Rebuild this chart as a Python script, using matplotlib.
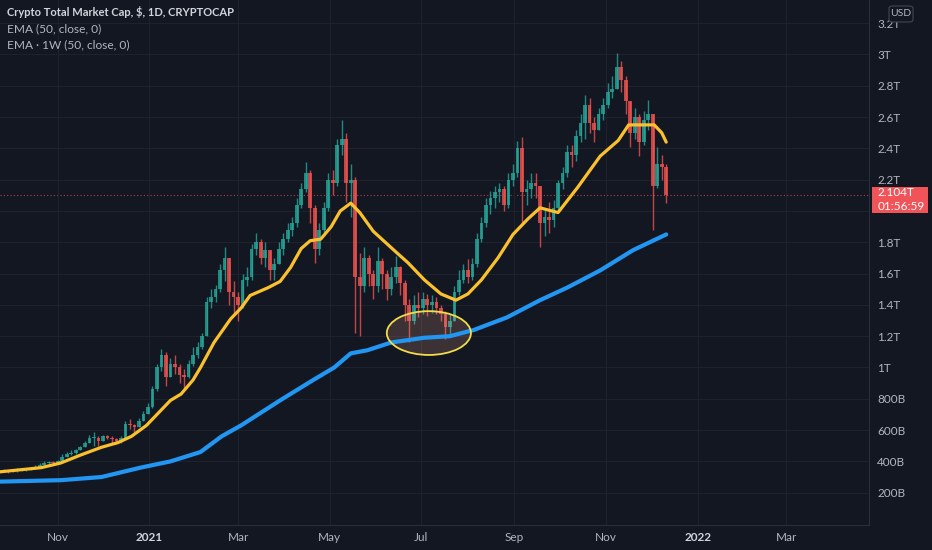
import numpy as np
import pandas as pd
import matplotlib
matplotlib.use("Agg")
import matplotlib.pyplot as plt
import matplotlib.dates as mdates
from matplotlib.patches import Ellipse, Rectangle, FancyBboxPatch

# 3-day candles, Sep 23 2020 -> Dec 11 2021 (values in trillions USD)
candle_dates = pd.date_range("2020-09-23", "2021-12-11", freq="3D")
first_open = 0.33
closes = [
    0.335, 0.34, 0.335, 0.34, 0.345, 0.35, 0.35, 0.355, 0.365, 0.38,
    0.39, 0.395, 0.39, 0.40, 0.43, 0.45, 0.455, 0.47, 0.49, 0.52,
    0.55, 0.55, 0.53, 0.56, 0.55, 0.54, 0.53, 0.55, 0.64, 0.63,
    0.62, 0.66, 0.70, 0.75, 0.86, 1.00, 1.08, 0.94, 1.02, 1.00,
    0.95, 0.94, 1.02, 1.08, 1.13, 1.20, 1.42, 1.45, 1.50, 1.62,
    1.70, 1.48, 1.45, 1.40, 1.56, 1.58, 1.76, 1.80, 1.70, 1.75,
    1.62, 1.66, 1.76, 1.82, 1.88, 1.92, 2.04, 2.14, 2.24, 2.02,
    1.76, 1.88, 2.02, 2.20, 2.18, 2.42, 2.46, 2.18, 2.20, 1.58,
    1.52, 1.70, 1.60, 1.52, 1.68, 1.60, 1.50, 1.58, 1.64,
    1.54, 1.40, 1.30, 1.40, 1.38, 1.44, 1.40, 1.42, 1.38, 1.34,
    1.26, 1.30, 1.48, 1.56, 1.62, 1.58, 1.66, 1.82, 1.92, 2.04,
    2.08, 2.12, 2.14, 2.04, 2.20, 2.24, 2.40, 2.12, 2.14, 2.18,
    2.16, 1.92, 1.96, 1.94, 2.02, 2.18, 2.24, 2.38, 2.36, 2.48,
    2.56, 2.68, 2.56, 2.52, 2.62, 2.68, 2.76, 2.78, 2.92, 2.84,
    2.70, 2.50, 2.60, 2.44, 2.58, 2.62, 2.16, 2.30, 2.28, 2.104,
]
highs = [
    0.345, 0.35, 0.345, 0.35, 0.355, 0.36, 0.36, 0.365, 0.375, 0.39,
    0.40, 0.405, 0.40, 0.41, 0.445, 0.46, 0.47, 0.48, 0.50, 0.53,
    0.57, 0.59, 0.56, 0.57, 0.57, 0.56, 0.55, 0.56, 0.66, 0.67,
    0.64, 0.68, 0.72, 0.77, 0.88, 1.02, 1.12, 1.10, 1.06, 1.08,
    1.02, 0.99, 1.05, 1.13, 1.16, 1.22, 1.45, 1.50, 1.53, 1.66,
    1.77, 1.66, 1.55, 1.48, 1.60, 1.64, 1.79, 1.86, 1.82, 1.80,
    1.74, 1.70, 1.80, 1.86, 1.92, 1.96, 2.08, 2.18, 2.31, 2.26,
    2.04, 1.92, 2.06, 2.24, 2.26, 2.46, 2.58, 2.50, 2.30, 2.22,
    1.73, 1.77, 1.72, 1.62, 1.77, 1.70, 1.62, 1.64, 1.71,
    1.65, 1.56, 1.44, 1.46, 1.48, 1.48, 1.47, 1.46, 1.45, 1.40,
    1.36, 1.34, 1.52, 1.62, 1.66, 1.69, 1.70, 1.86, 1.96, 2.08,
    2.13, 2.16, 2.18, 2.16, 2.24, 2.30, 2.45, 2.47, 2.20, 2.24,
    2.24, 2.16, 2.02, 2.06, 2.07, 2.20, 2.28, 2.42, 2.42, 2.52,
    2.62, 2.74, 2.72, 2.60, 2.66, 2.72, 2.82, 2.86, 3.01, 2.96,
    2.86, 2.70, 2.66, 2.62, 2.64, 2.71, 2.60, 2.41, 2.36, 2.30,
]
lows = [
    0.325, 0.33, 0.325, 0.33, 0.335, 0.34, 0.34, 0.345, 0.35, 0.36,
    0.375, 0.385, 0.375, 0.385, 0.40, 0.43, 0.44, 0.45, 0.47, 0.49,
    0.52, 0.50, 0.50, 0.53, 0.54, 0.52, 0.51, 0.52, 0.55, 0.61,
    0.59, 0.62, 0.66, 0.70, 0.74, 0.85, 0.98, 0.88, 0.95, 0.96,
    0.90, 0.87, 0.93, 1.01, 1.06, 1.12, 1.20, 1.38, 1.42, 1.48,
    1.55, 1.40, 1.34, 1.30, 1.38, 1.52, 1.56, 1.72, 1.66, 1.64,
    1.56, 1.56, 1.66, 1.72, 1.80, 1.84, 1.90, 2.02, 2.12, 1.92,
    1.67, 1.72, 1.86, 2.00, 2.10, 2.16, 2.36, 2.06, 1.96, 1.22,
    1.20, 1.48, 1.52, 1.44, 1.48, 1.50, 1.43, 1.46, 1.54,
    1.46, 1.30, 1.16, 1.28, 1.32, 1.34, 1.33, 1.35, 1.34, 1.30,
    1.18, 1.20, 1.30, 1.46, 1.54, 1.54, 1.56, 1.64, 1.80, 1.90,
    1.98, 2.02, 2.06, 2.00, 2.02, 2.16, 2.22, 1.92, 2.04, 2.08,
    2.08, 1.77, 1.84, 1.86, 1.90, 2.00, 2.14, 2.22, 2.28, 2.32,
    2.44, 2.46, 2.50, 2.44, 2.52, 2.58, 2.66, 2.72, 2.82, 2.76,
    2.62, 2.41, 2.46, 2.35, 2.42, 2.52, 1.88, 2.15, 2.20, 2.05,
]

# EMA 50 (daily)
ema_dates = [
    "2020-09-20", "2020-10-21", "2020-11-03", "2020-11-16", "2020-11-30",
    "2020-12-11", "2020-12-20", "2020-12-30", "2021-01-09", "2021-01-15",
    "2021-01-22", "2021-01-30", "2021-02-04", "2021-02-13", "2021-02-24",
    "2021-03-03", "2021-03-09", "2021-03-21", "2021-03-29", "2021-04-05",
    "2021-04-12", "2021-04-18", "2021-04-25", "2021-05-02", "2021-05-08",
    "2021-05-15", "2021-05-21", "2021-05-30", "2021-06-07", "2021-06-15",
    "2021-06-22", "2021-07-03", "2021-07-14", "2021-07-24", "2021-08-01",
    "2021-08-10", "2021-08-21", "2021-08-31", "2021-09-10", "2021-09-18",
    "2021-09-30", "2021-10-13", "2021-10-28", "2021-11-09", "2021-11-16",
    "2021-11-24", "2021-12-03", "2021-12-08", "2021-12-11",
]
ema_values = [
    0.33, 0.36, 0.39, 0.44, 0.49,
    0.52, 0.56, 0.63, 0.73, 0.79,
    0.83, 0.92, 1.00, 1.16, 1.31,
    1.38, 1.46, 1.51, 1.55, 1.64,
    1.76, 1.81, 1.82, 1.90, 2.00,
    2.05, 1.99, 1.87, 1.80, 1.73,
    1.67, 1.56, 1.47, 1.43, 1.47,
    1.56, 1.70, 1.85, 1.95, 2.02,
    1.99, 2.15, 2.35, 2.45, 2.55,
    2.55, 2.55, 2.50, 2.44,
]

# EMA 50 (weekly)
wema_dates = [
    "2020-09-20", "2020-11-03", "2020-11-30", "2020-12-26", "2021-01-15",
    "2021-02-04", "2021-02-18", "2021-03-03", "2021-03-29", "2021-04-20",
    "2021-05-04", "2021-05-15", "2021-05-26", "2021-06-11", "2021-07-03",
    "2021-07-20", "2021-08-05", "2021-08-27", "2021-09-18", "2021-10-06",
    "2021-10-28", "2021-11-19", "2021-12-11",
]
wema_values = [
    0.27, 0.28, 0.30, 0.36, 0.40,
    0.46, 0.56, 0.63, 0.79, 0.92,
    1.00, 1.09, 1.11, 1.16, 1.19,
    1.20, 1.24, 1.32, 1.43, 1.51,
    1.62, 1.75, 1.85,
]

last_price = 2.104
price_ticks = [0.2, 0.4, 0.6, 0.8, 1.0, 1.2, 1.4, 1.6, 1.8, 2.0, 2.2, 2.4, 2.6, 2.8, 3.0, 3.2]
price_labels = ["200B", "400B", "600B", "800B", "1T", "1.2T", "1.4T", "1.6T", "1.8T",
                "", "2.2T", "2.4T", "2.6T", "2.8T", "3T", "3.2T"]
month_ticks = ["2020-11-01", "2021-01-01", "2021-03-01", "2021-05-01", "2021-07-01",
               "2021-09-01", "2021-11-01", "2022-01-01", "2022-03-01"]
month_labels = ["Nov", "2021", "Mar", "May", "Jul", "Sep", "Nov", "2022", "Mar"]

BG = "#131722"
UP = "#26a69a"
DOWN = "#ef5350"
TXT = "#b2b5be"

plt.rcParams["font.family"] = ["Lato", "DejaVu Sans"]

fig = plt.figure(figsize=(9.32, 5.5), dpi=100, facecolor=BG)
ax = fig.add_axes([0, 25 / 550, 869 / 932, 525 / 550], facecolor=BG)

c = np.array(closes)
o = np.r_[first_open, c[:-1]]
h = np.maximum(np.array(highs), np.maximum(o, c))
l = np.minimum(np.array(lows), np.minimum(o, c))
cols = np.where(c >= o, UP, DOWN)

ax.vlines(candle_dates, l, h, colors=cols, lw=1.0, alpha=0.8, zorder=2)
ax.bar(candle_dates, np.maximum(np.abs(c - o), 0.004), bottom=np.minimum(o, c),
       width=2.5, color=cols, alpha=0.8, zorder=2)

ax.plot(pd.to_datetime(ema_dates), ema_values, color="#fbc02d", lw=2.3,
        solid_capstyle="round", solid_joinstyle="round", zorder=4)
ax.plot(pd.to_datetime(wema_dates), wema_values, color="#2196f3", lw=3.0,
        solid_capstyle="round", solid_joinstyle="round", zorder=4)

# highlighted zone
ell_center = mdates.date2num(pd.Timestamp("2021-07-06"))
ax.add_patch(Ellipse((ell_center, 1.22), 56, 0.28, facecolor="#e5a38b", alpha=0.2,
                     edgecolor="none", zorder=3))
ax.add_patch(Ellipse((ell_center, 1.22), 56, 0.28, facecolor="none",
                     edgecolor="#f2dc48", lw=1.3, zorder=5))

ax.axhline(last_price, color=DOWN, lw=0.8, ls=(0, (1, 2)), alpha=0.7, zorder=1)

ax.set_xlim(pd.Timestamp("2020-09-23 12:00"), pd.Timestamp("2022-04-25"))
ax.set_ylim(-0.0064, 3.348)

ax.set_xticks(pd.to_datetime(month_ticks))
ax.set_xticklabels(month_labels)
for lab in ax.get_xticklabels():
    if lab.get_text().startswith("20"):
        lab.set_color("#d1d4dc")
        lab.set_fontweight("bold")
    else:
        lab.set_color(TXT)

ax.yaxis.tick_right()
ax.set_yticks(price_ticks)
ax.set_yticklabels(price_labels)
ax.tick_params(axis="x", length=0, pad=5, labelsize=8.5)
ax.tick_params(axis="y", length=0, pad=6, labelsize=8.5, labelcolor=TXT)

ax.grid(True, color="#1e222d", lw=0.8, zorder=0)
for side in ["top", "left"]:
    ax.spines[side].set_visible(False)
for side in ["right", "bottom"]:
    ax.spines[side].set_color("#2a2e39")

# legend text
fig.text(7 / 932, 1 - 12 / 550, "Crypto Total Market Cap, $, 1D, CRYPTOCAP",
         color="#d1d4dc", fontsize=8.0, fontweight="bold", va="center")
fig.text(7 / 932, 1 - 29 / 550, "EMA (50, close, 0)", color=TXT, fontsize=8.6, va="center")
fig.text(7 / 932, 1 - 45 / 550, "EMA · 1W (50, close, 0)", color=TXT, fontsize=8.6, va="center")

# last price label
fig.patches.append(Rectangle((872 / 932, 1 - 213 / 550), 56 / 932, 26 / 550,
                             transform=fig.transFigure, facecolor="#f05459",
                             edgecolor="none", zorder=5))
fig.text(878 / 932, 1 - 193 / 550, "2.104T", color="white", fontsize=8.5, va="center", zorder=6)
fig.text(878 / 932, 1 - 206 / 550, "01:56:59", color="white", fontsize=8.5, va="center", zorder=6)

# currency badge
fig.patches.append(FancyBboxPatch((889 / 932, 1 - 22 / 550), 24 / 932, 16 / 550,
                                  boxstyle="round,pad=0,rounding_size=0.004",
                                  transform=fig.transFigure, facecolor=BG,
                                  edgecolor="#434651", lw=0.8, zorder=5))
fig.text(901 / 932, 1 - 14 / 550, "USD", color=TXT, fontsize=7.5, ha="center",
         va="center", zorder=6)

fig.savefig("out.png", dpi=100, facecolor=BG)
